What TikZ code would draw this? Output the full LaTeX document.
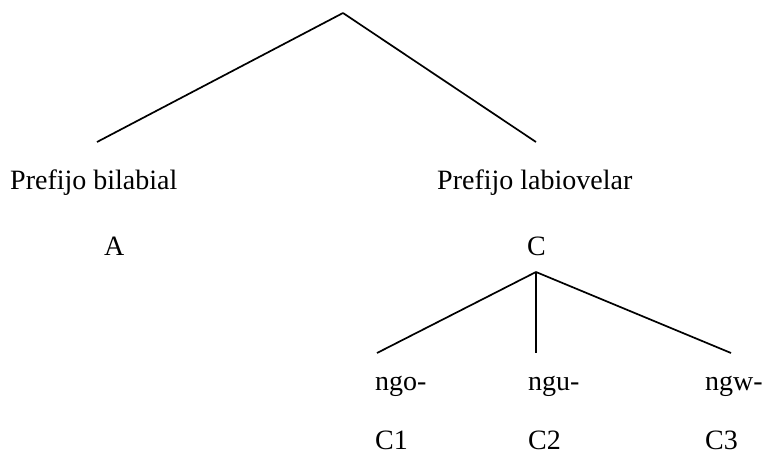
\documentclass[tikz,border=0pt]{standalone}
\usepackage{fontspec}
\setmainfont{Liberation Serif}
\usepackage{tikz}
\tikzstyle{label} =
        [
                anchor = base west,
                inner sep = 0pt,
                font = \fontsize{28}{34}\selectfont
        ]
\tikzstyle{branch} =
        [
                line width = 1.7pt,
                draw = black
        ]

\begin{document}
\begin{tikzpicture}[x=1pt,y=-1pt]
    \useasboundingbox (0,0) rectangle (782,460);
    % upper level
    \coordinate (root) at (343,13);
    \node [label] (bilabial) at (10,189) {Prefijo bilabial};
    \node [label] (labiovelar) at (437,189) {Prefijo labiovelar};
    \coordinate (bilabial-top) at (97,142);
    \coordinate (labiovelar-top) at (536,142);
    \path [branch] (root) -- (bilabial-top);
    \path [branch] (root) -- (labiovelar-top);
    % classes
    \node [label] (A) at (104,255) {A};
    \node [label] (C) at (527,255) {C};
    \coordinate (C-root) at (536,272);
    % prefixes under C
    \node [label] (ngo) at (375,390) {ngo-};
    \node [label] (ngu) at (528,390) {ngu-};
    \node [label] (ngw) at (705,390) {ngw-};
    \node [label] (C1) at (375,449) {C1};
    \node [label] (C2) at (528,449) {C2};
    \node [label] (C3) at (705,449) {C3};
    \coordinate (ngo-top) at (377,353);
    \coordinate (ngu-top) at (536,353);
    \coordinate (ngw-top) at (731,353);
    \path [branch] (C-root) -- (ngo-top);
    \path [branch] (C-root) -- (ngu-top);
    \path [branch] (C-root) -- (ngw-top);
\end{tikzpicture}
\end{document}
